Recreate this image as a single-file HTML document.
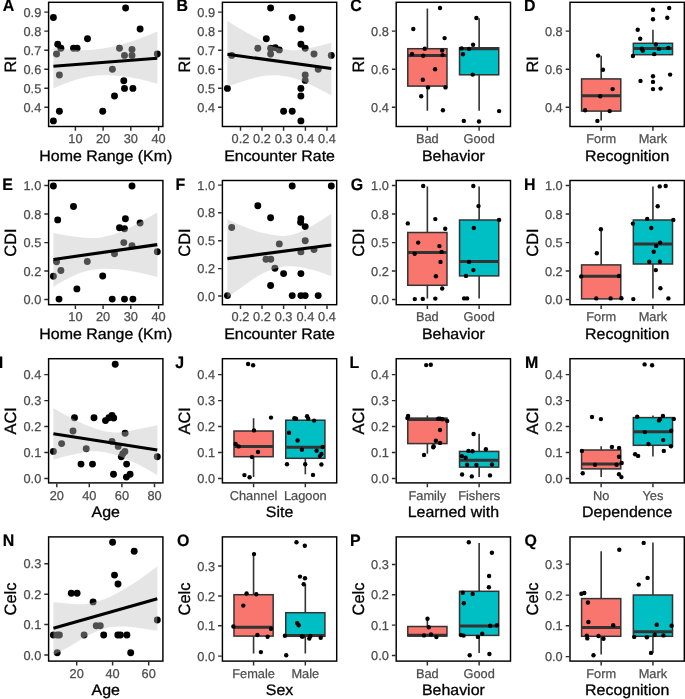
<!DOCTYPE html>
<html lang="en">
<head>
<meta charset="utf-8">
<title>Figure</title>
<style>
html,body{margin:0;padding:0;background:#fff;}
svg{display:block;}
text{font-family:"Liberation Sans",sans-serif;text-rendering:geometricPrecision;}
.t text{font-size:12.8px;fill:#4d4d4d;stroke:#4d4d4d;stroke-width:0.25px;}
.a{font-size:15.2px;fill:#000;stroke:#000;stroke-width:0.3px;}
.b{font-size:16.4px;fill:#000;stroke:#000;stroke-width:0.3px;}
.g{font-size:16.6px;font-weight:bold;fill:#000;stroke:#000;stroke-width:0.2px;}
</style>
</head>
<body>
<svg width="685" height="699" viewBox="0 0 685 699">
<rect width="685" height="699" fill="#fff"/>
<g>
<g fill="#000"><circle cx="125.6" cy="8" r="3.45"/><circle cx="53.4" cy="17.5" r="3.45"/><circle cx="140.1" cy="29" r="3.45"/><circle cx="87.5" cy="38.7" r="3.45"/><circle cx="57.7" cy="44.3" r="3.45"/><circle cx="60.9" cy="48.2" r="3.45"/><circle cx="73.5" cy="48.2" r="3.45"/><circle cx="77.1" cy="48.2" r="3.45"/><circle cx="119.5" cy="48.2" r="3.45"/><circle cx="132" cy="49.5" r="3.45"/><circle cx="56.6" cy="54" r="3.45"/><circle cx="157.3" cy="54" r="3.45"/><circle cx="124.5" cy="55.4" r="3.45"/><circle cx="132" cy="55.4" r="3.45"/><circle cx="112.4" cy="69.2" r="3.45"/><circle cx="59.4" cy="75" r="3.45"/><circle cx="123.8" cy="80.7" r="3.45"/><circle cx="124.5" cy="88.4" r="3.45"/><circle cx="132.9" cy="88.4" r="3.45"/><circle cx="114.5" cy="96" r="3.45"/><circle cx="59.4" cy="111.3" r="3.45"/><circle cx="102.7" cy="111.3" r="3.45"/><circle cx="53.4" cy="120.9" r="3.45"/></g>
<path d="M53.4 47.4C55.27 47.72 59.63 48.83 64.6 49.3C69.57 49.77 77 50.3 83.2 50.2C89.4 50.1 95.6 49.62 101.8 48.7C108 47.78 114.2 46.3 120.4 44.7C126.6 43.1 132.85 41.28 139 39.1C145.15 36.92 154.25 32.85 157.3 31.6L157.3 83.7C154.25 82.93 145.15 80.4 139 79.1C132.85 77.8 126.6 76.53 120.4 75.9C114.2 75.27 108 74.98 101.8 75.3C95.6 75.62 89.4 76.4 83.2 77.8C77 79.2 69.57 81.93 64.6 83.7C59.63 85.47 55.27 87.62 53.4 88.4Z" fill="#c0c0c0" fill-opacity="0.41"/>
<line x1="53.4" y1="66.2" x2="157.3" y2="58.2" stroke="#000" stroke-width="3.1"/>
<rect x="48.6" y="2.3" width="114.3" height="124.2" fill="none" stroke="#000" stroke-width="1.45"/>
<path d="M48 12.1h-3.7M48 31.1h-3.7M48 50.2h-3.7M48 69.2h-3.7M48 88.2h-3.7M48 107.3h-3.7M75.4 127.1v3.7M103.1 127.1v3.7M130.8 127.1v3.7M158.6 127.1v3.7" stroke="#2b2b2b" stroke-width="1.45" fill="none"/>
<g class="t">
<text x="41.3" y="16.75" text-anchor="end">0.9</text>
<text x="41.3" y="35.75" text-anchor="end">0.8</text>
<text x="41.3" y="54.85" text-anchor="end">0.7</text>
<text x="41.3" y="73.85" text-anchor="end">0.6</text>
<text x="41.3" y="92.85" text-anchor="end">0.5</text>
<text x="41.3" y="111.95" text-anchor="end">0.4</text>
<text x="75.4" y="143.1" text-anchor="middle">10</text>
<text x="103.1" y="143.1" text-anchor="middle">20</text>
<text x="130.8" y="143.1" text-anchor="middle">30</text>
<text x="158.6" y="143.1" text-anchor="middle">40</text>
</g>
<text class="a" transform="translate(105.75 160.5) scale(1.05 1)" text-anchor="middle">Home Range (Km)</text>
<text class="b" transform="translate(16.3 64.4) rotate(-90) scale(1.0 1)" text-anchor="middle">RI</text>
<text class="g" transform="translate(2.7 11.3) scale(0.96 1)">A</text>
</g>
<g>
<g fill="#000"><circle cx="270.6" cy="8" r="3.45"/><circle cx="292.2" cy="17.5" r="3.45"/><circle cx="300.9" cy="29" r="3.45"/><circle cx="266.3" cy="38.7" r="3.45"/><circle cx="300.9" cy="44.3" r="3.45"/><circle cx="257.8" cy="48.2" r="3.45"/><circle cx="270.6" cy="48.2" r="3.45"/><circle cx="275.3" cy="47.8" r="3.45"/><circle cx="305.2" cy="48.2" r="3.45"/><circle cx="279.3" cy="49.9" r="3.45"/><circle cx="270.6" cy="54" r="3.45"/><circle cx="314" cy="54" r="3.45"/><circle cx="231.7" cy="55.4" r="3.45"/><circle cx="331.3" cy="55.4" r="3.45"/><circle cx="318.2" cy="69.2" r="3.45"/><circle cx="305.2" cy="75" r="3.45"/><circle cx="305.2" cy="80.4" r="3.45"/><circle cx="227.4" cy="88.4" r="3.45"/><circle cx="300.9" cy="88.4" r="3.45"/><circle cx="300.9" cy="96" r="3.45"/><circle cx="283.6" cy="111.3" r="3.45"/><circle cx="292.2" cy="111.3" r="3.45"/><circle cx="300.9" cy="120.9" r="3.45"/></g>
<path d="M227.4 20.8C229.27 21.98 233.63 25.02 238.6 27.9C243.57 30.78 252.23 35.3 257.2 38.1C262.17 40.9 264.37 42.93 268.4 44.7C272.43 46.47 277.07 47.78 281.4 48.7C285.73 49.62 290.07 50.2 294.4 50.2C298.73 50.2 303.37 49.38 307.4 48.7C311.43 48.02 314.62 47.15 318.6 46.1C322.58 45.05 329.18 43.02 331.3 42.4L331.3 95.3C328.25 93.75 318.53 88.62 313 86C307.47 83.38 302.75 81.22 298.1 79.6C293.45 77.98 289.43 77.02 285.1 76.3C280.77 75.58 276.75 75.15 272.1 75.3C267.45 75.45 262.78 75.95 257.2 77.2C251.62 78.45 243.57 81.25 238.6 82.8C233.63 84.35 229.27 85.88 227.4 86.5Z" fill="#c0c0c0" fill-opacity="0.41"/>
<line x1="227.4" y1="54.3" x2="331.3" y2="68.5" stroke="#000" stroke-width="3.1"/>
<rect x="222.4" y="2.3" width="114.3" height="124.2" fill="none" stroke="#000" stroke-width="1.45"/>
<path d="M221.8 12.1h-3.7M221.8 31.1h-3.7M221.8 50.2h-3.7M221.8 69.2h-3.7M221.8 88.2h-3.7M221.8 107.3h-3.7M240.5 127.1v3.7M262 127.1v3.7M283.6 127.1v3.7M305.4 127.1v3.7M327 127.1v3.7" stroke="#2b2b2b" stroke-width="1.45" fill="none"/>
<g class="t">
<text x="215.1" y="16.75" text-anchor="end">0.9</text>
<text x="215.1" y="35.75" text-anchor="end">0.8</text>
<text x="215.1" y="54.85" text-anchor="end">0.7</text>
<text x="215.1" y="73.85" text-anchor="end">0.6</text>
<text x="215.1" y="92.85" text-anchor="end">0.5</text>
<text x="215.1" y="111.95" text-anchor="end">0.4</text>
<text x="240.5" y="143.1" text-anchor="middle">0.2</text>
<text x="262" y="143.1" text-anchor="middle">0.2</text>
<text x="283.6" y="143.1" text-anchor="middle">0.3</text>
<text x="305.4" y="143.1" text-anchor="middle">0.4</text>
<text x="327" y="143.1" text-anchor="middle">0.4</text>
</g>
<text class="a" transform="translate(279.55 160.5) scale(1.05 1)" text-anchor="middle">Encounter Rate</text>
<text class="b" transform="translate(190.1 64.4) rotate(-90) scale(1.0 1)" text-anchor="middle">RI</text>
<text class="g" transform="translate(176.5 11.3) scale(0.96 1)">B</text>
</g>
<g>
<path d="M427.37 8.4V48.7M427.37 86.1V110.7" stroke="#333" stroke-width="1.6" fill="none"/>
<rect x="407.77" y="48.7" width="39.2" height="37.4" fill="#F8766D" stroke="#333" stroke-width="1.5"/>
<line x1="407.77" y1="55.4" x2="446.97" y2="55.4" stroke="#333" stroke-width="3"/>
<path d="M479.13 18.2V47.8M479.13 74.8V110.7" stroke="#333" stroke-width="1.6" fill="none"/>
<rect x="459.53" y="47.8" width="39.2" height="27" fill="#00BFC4" stroke="#333" stroke-width="1.5"/>
<line x1="459.53" y1="48.7" x2="498.73" y2="48.7" stroke="#333" stroke-width="3"/>
<g fill="#000"><circle cx="440" cy="8" r="2.2"/><circle cx="413.3" cy="29" r="2.2"/><circle cx="444.6" cy="38.1" r="2.2"/><circle cx="424.7" cy="48.7" r="2.2"/><circle cx="442.2" cy="50.6" r="2.2"/><circle cx="412" cy="54" r="2.2"/><circle cx="423.2" cy="55.8" r="2.2"/><circle cx="442.6" cy="55.1" r="2.2"/><circle cx="435.1" cy="69.2" r="2.2"/><circle cx="422.8" cy="79.8" r="2.2"/><circle cx="428" cy="87.4" r="2.2"/><circle cx="445.5" cy="87.4" r="2.2"/><circle cx="421.2" cy="96.2" r="2.2"/><circle cx="442.9" cy="110.3" r="2.2"/><circle cx="476.4" cy="18" r="2.2"/><circle cx="473.1" cy="44.8" r="2.2"/><circle cx="461.5" cy="48.4" r="2.2"/><circle cx="469" cy="48.9" r="2.2"/><circle cx="463" cy="54.3" r="2.2"/><circle cx="472.7" cy="74.6" r="2.2"/><circle cx="499.1" cy="111.1" r="2.2"/><circle cx="463.8" cy="120.9" r="2.2"/><circle cx="479" cy="121.5" r="2.2"/></g>
<rect x="396.2" y="2.3" width="114.3" height="124.2" fill="none" stroke="#000" stroke-width="1.45"/>
<path d="M395.6 31.1h-3.7M395.6 69.2h-3.7M395.6 107.3h-3.7M427.37 127.1v3.7M479.13 127.1v3.7" stroke="#2b2b2b" stroke-width="1.45" fill="none"/>
<g class="t">
<text x="388.9" y="35.75" text-anchor="end">0.8</text>
<text x="388.9" y="73.85" text-anchor="end">0.6</text>
<text x="388.9" y="111.95" text-anchor="end">0.4</text>
<text x="427.37" y="143.1" text-anchor="middle">Bad</text>
<text x="479.13" y="143.1" text-anchor="middle">Good</text>
</g>
<text class="a" transform="translate(453.35 160.5) scale(1.05 1)" text-anchor="middle">Behavior</text>
<text class="b" transform="translate(363.9 64.4) rotate(-90) scale(1.0 1)" text-anchor="middle">RI</text>
<text class="g" transform="translate(350.3 11.3) scale(0.96 1)">C</text>
</g>
<g>
<path d="M601.17 55.8V78.9M601.17 111.1V120.6" stroke="#333" stroke-width="1.6" fill="none"/>
<rect x="581.57" y="78.9" width="39.2" height="32.2" fill="#F8766D" stroke="#333" stroke-width="1.5"/>
<line x1="581.57" y1="95.8" x2="620.77" y2="95.8" stroke="#333" stroke-width="3"/>
<path d="M652.93 29.8V43.3M652.93 54.7V55.7" stroke="#333" stroke-width="1.6" fill="none"/>
<rect x="633.33" y="43.3" width="39.2" height="11.4" fill="#00BFC4" stroke="#333" stroke-width="1.5"/>
<line x1="633.33" y1="48.4" x2="672.53" y2="48.4" stroke="#333" stroke-width="3"/>
<g fill="#000"><circle cx="598.1" cy="55.6" r="2.2"/><circle cx="603" cy="69.8" r="2.2"/><circle cx="612.6" cy="89.1" r="2.2"/><circle cx="600.2" cy="96.2" r="2.2"/><circle cx="585.1" cy="110.3" r="2.2"/><circle cx="609.7" cy="111.1" r="2.2"/><circle cx="597.4" cy="120.9" r="2.2"/><circle cx="653" cy="9.7" r="2.2"/><circle cx="669.2" cy="8" r="2.2"/><circle cx="653" cy="19.2" r="2.2"/><circle cx="667.3" cy="17.7" r="2.2"/><circle cx="637.7" cy="29.8" r="2.2"/><circle cx="640.2" cy="38.7" r="2.2"/><circle cx="655.8" cy="44.5" r="2.2"/><circle cx="641.8" cy="48.7" r="2.2"/><circle cx="642.8" cy="50.8" r="2.2"/><circle cx="659" cy="48.9" r="2.2"/><circle cx="668.3" cy="48" r="2.2"/><circle cx="654.3" cy="54.1" r="2.2"/><circle cx="632.9" cy="56" r="2.2"/><circle cx="653" cy="76.3" r="2.2"/><circle cx="670.1" cy="74.6" r="2.2"/><circle cx="640.5" cy="80.9" r="2.2"/><circle cx="653" cy="81.9" r="2.2"/><circle cx="653" cy="89.1" r="2.2"/><circle cx="660.6" cy="88.6" r="2.2"/></g>
<rect x="570" y="2.3" width="114.3" height="124.2" fill="none" stroke="#000" stroke-width="1.45"/>
<path d="M569.4 31.1h-3.7M569.4 69.2h-3.7M569.4 107.3h-3.7M601.17 127.1v3.7M652.93 127.1v3.7" stroke="#2b2b2b" stroke-width="1.45" fill="none"/>
<g class="t">
<text x="562.7" y="35.75" text-anchor="end">0.8</text>
<text x="562.7" y="73.85" text-anchor="end">0.6</text>
<text x="562.7" y="111.95" text-anchor="end">0.4</text>
<text x="601.17" y="143.1" text-anchor="middle">Form</text>
<text x="652.93" y="143.1" text-anchor="middle">Mark</text>
</g>
<text class="a" transform="translate(627.15 160.5) scale(1.05 1)" text-anchor="middle">Recognition</text>
<text class="b" transform="translate(537.7 64.4) rotate(-90) scale(1.0 1)" text-anchor="middle">RI</text>
<text class="g" transform="translate(524.1 11.3) scale(0.96 1)">D</text>
</g>
<g>
<g fill="#000"><circle cx="53.4" cy="186" r="3.45"/><circle cx="132" cy="186" r="3.45"/><circle cx="73.5" cy="206.5" r="3.45"/><circle cx="57.7" cy="219.9" r="3.45"/><circle cx="125.4" cy="218.7" r="3.45"/><circle cx="119.5" cy="227.7" r="3.45"/><circle cx="124.5" cy="228.8" r="3.45"/><circle cx="140.1" cy="223" r="3.45"/><circle cx="123.8" cy="242.6" r="3.45"/><circle cx="132" cy="245.7" r="3.45"/><circle cx="114.5" cy="253.7" r="3.45"/><circle cx="157.3" cy="251.7" r="3.45"/><circle cx="56.6" cy="261.7" r="3.45"/><circle cx="87.3" cy="261.5" r="3.45"/><circle cx="60.9" cy="270.5" r="3.45"/><circle cx="53.4" cy="276.2" r="3.45"/><circle cx="102.7" cy="276" r="3.45"/><circle cx="76.9" cy="288.9" r="3.45"/><circle cx="59" cy="299.1" r="3.45"/><circle cx="112.2" cy="299.1" r="3.45"/><circle cx="124.5" cy="299.1" r="3.45"/><circle cx="132.9" cy="299.1" r="3.45"/></g>
<path d="M53.4 232.9C56.82 233.52 68 235.77 73.9 236.6C79.8 237.43 84.15 237.8 88.8 237.9C93.45 238 96.53 238.18 101.8 237.2C107.07 236.22 114.2 234.42 120.4 232C126.6 229.58 132.85 225.97 139 222.7C145.15 219.43 154.25 214.12 157.3 212.4L157.3 277C154.25 276.25 145.15 273.75 139 272.5C132.85 271.25 126.6 270.12 120.4 269.5C114.2 268.88 108 268.38 101.8 268.8C95.6 269.22 89.4 270.08 83.2 272C77 273.92 69.57 277.83 64.6 280.3C59.63 282.77 55.27 285.72 53.4 286.8Z" fill="#c0c0c0" fill-opacity="0.41"/>
<line x1="53.4" y1="259.5" x2="157.3" y2="244.6" stroke="#000" stroke-width="3.1"/>
<rect x="48.6" y="180.5" width="114.3" height="124.2" fill="none" stroke="#000" stroke-width="1.45"/>
<path d="M48 185.4h-3.7M48 213.9h-3.7M48 242.6h-3.7M48 270.9h-3.7M48 299.5h-3.7M75.4 305.3v3.7M103.1 305.3v3.7M130.8 305.3v3.7M158.6 305.3v3.7" stroke="#2b2b2b" stroke-width="1.45" fill="none"/>
<g class="t">
<text x="41.3" y="190.05" text-anchor="end">1.0</text>
<text x="41.3" y="218.55" text-anchor="end">0.8</text>
<text x="41.3" y="247.25" text-anchor="end">0.5</text>
<text x="41.3" y="275.55" text-anchor="end">0.2</text>
<text x="41.3" y="304.15" text-anchor="end">0.0</text>
<text x="75.4" y="321.3" text-anchor="middle">10</text>
<text x="103.1" y="321.3" text-anchor="middle">20</text>
<text x="130.8" y="321.3" text-anchor="middle">30</text>
<text x="158.6" y="321.3" text-anchor="middle">40</text>
</g>
<text class="a" transform="translate(105.75 338.7) scale(1.05 1)" text-anchor="middle">Home Range (Km)</text>
<text class="b" transform="translate(16.3 242.6) rotate(-90) scale(1.0 1)" text-anchor="middle">CDI</text>
<text class="g" transform="translate(2.3 189.5) scale(0.96 1)">E</text>
</g>
<g>
<g fill="#000"><circle cx="292.2" cy="186" r="3.45"/><circle cx="331.3" cy="186" r="3.45"/><circle cx="257.8" cy="205.7" r="3.45"/><circle cx="270.6" cy="217.8" r="3.45"/><circle cx="300.9" cy="218.6" r="3.45"/><circle cx="300.6" cy="222.3" r="3.45"/><circle cx="305.2" cy="226.6" r="3.45"/><circle cx="231.7" cy="227.5" r="3.45"/><circle cx="305.2" cy="240.7" r="3.45"/><circle cx="279.3" cy="243.9" r="3.45"/><circle cx="300.9" cy="251.9" r="3.45"/><circle cx="314" cy="249.6" r="3.45"/><circle cx="266" cy="259.3" r="3.45"/><circle cx="270.8" cy="259.3" r="3.45"/><circle cx="274.9" cy="268.2" r="3.45"/><circle cx="283.6" cy="273.6" r="3.45"/><circle cx="300.9" cy="273.6" r="3.45"/><circle cx="270.6" cy="285.5" r="3.45"/><circle cx="227.4" cy="295.6" r="3.45"/><circle cx="292.2" cy="295.6" r="3.45"/><circle cx="300.9" cy="295.6" r="3.45"/><circle cx="305.2" cy="295.6" r="3.45"/><circle cx="318.2" cy="295.6" r="3.45"/></g>
<path d="M227.4 218.9C229.27 219.83 233.63 222.42 238.6 224.5C243.57 226.58 251 229.6 257.2 231.4C263.4 233.2 271.15 234.58 275.8 235.3C280.45 236.02 281.38 236.1 285.1 235.7C288.82 235.3 293.45 234.62 298.1 232.9C302.75 231.18 307.47 228.6 313 225.4C318.53 222.2 328.25 215.65 331.3 213.7L331.3 276.2C328.87 275.33 321.3 272.42 316.7 271C312.1 269.58 307.42 268.47 303.7 267.7C299.98 266.93 298.12 266.53 294.4 266.4C290.68 266.27 285.73 266.13 281.4 266.9C277.07 267.67 272.43 269.38 268.4 271C264.37 272.62 262.17 273.5 257.2 276.6C252.23 279.7 243.57 286.03 238.6 289.6C233.63 293.17 229.27 296.6 227.4 298Z" fill="#c0c0c0" fill-opacity="0.41"/>
<line x1="227.4" y1="258.6" x2="331.3" y2="245" stroke="#000" stroke-width="3.1"/>
<rect x="222.4" y="180.5" width="114.3" height="124.2" fill="none" stroke="#000" stroke-width="1.45"/>
<path d="M221.8 185.1h-3.7M221.8 212.8h-3.7M221.8 240.7h-3.7M221.8 268.6h-3.7M221.8 296h-3.7M240.5 305.3v3.7M262 305.3v3.7M283.6 305.3v3.7M305.4 305.3v3.7M327 305.3v3.7" stroke="#2b2b2b" stroke-width="1.45" fill="none"/>
<g class="t">
<text x="215.1" y="189.75" text-anchor="end">1.0</text>
<text x="215.1" y="217.45" text-anchor="end">0.8</text>
<text x="215.1" y="245.35" text-anchor="end">0.5</text>
<text x="215.1" y="273.25" text-anchor="end">0.2</text>
<text x="215.1" y="300.65" text-anchor="end">0.0</text>
<text x="240.5" y="321.3" text-anchor="middle">0.2</text>
<text x="262" y="321.3" text-anchor="middle">0.2</text>
<text x="283.6" y="321.3" text-anchor="middle">0.3</text>
<text x="305.4" y="321.3" text-anchor="middle">0.4</text>
<text x="327" y="321.3" text-anchor="middle">0.4</text>
</g>
<text class="a" transform="translate(279.55 338.7) scale(1.05 1)" text-anchor="middle">Encounter Rate</text>
<text class="b" transform="translate(190.1 242.6) rotate(-90) scale(1.0 1)" text-anchor="middle">CDI</text>
<text class="g" transform="translate(175.6 189.5) scale(0.96 1)">F</text>
</g>
<g>
<path d="M427.37 186.4V232.5M427.37 285.3V298.6" stroke="#333" stroke-width="1.6" fill="none"/>
<rect x="407.77" y="232.5" width="39.2" height="52.8" fill="#F8766D" stroke="#333" stroke-width="1.5"/>
<line x1="407.77" y1="252.6" x2="446.97" y2="252.6" stroke="#333" stroke-width="3"/>
<path d="M479.13 186.4V220M479.13 275.9V298.6" stroke="#333" stroke-width="1.6" fill="none"/>
<rect x="459.53" y="220" width="39.2" height="55.9" fill="#00BFC4" stroke="#333" stroke-width="1.5"/>
<line x1="459.53" y1="261.5" x2="498.73" y2="261.5" stroke="#333" stroke-width="3"/>
<g fill="#000"><circle cx="423.2" cy="186" r="2.2"/><circle cx="407.8" cy="223.4" r="2.2"/><circle cx="435.3" cy="219.1" r="2.2"/><circle cx="445.2" cy="228.8" r="2.2"/><circle cx="418.2" cy="242.6" r="2.2"/><circle cx="439.4" cy="246.1" r="2.2"/><circle cx="441.6" cy="251.9" r="2.2"/><circle cx="414.7" cy="253.7" r="2.2"/><circle cx="440.5" cy="261.9" r="2.2"/><circle cx="435.9" cy="276.2" r="2.2"/><circle cx="442.2" cy="288.5" r="2.2"/><circle cx="414.8" cy="299.1" r="2.2"/><circle cx="422.8" cy="298.9" r="2.2"/><circle cx="435.3" cy="298.6" r="2.2"/><circle cx="473.3" cy="186" r="2.2"/><circle cx="478.5" cy="206.1" r="2.2"/><circle cx="499.1" cy="219.9" r="2.2"/><circle cx="473.8" cy="228" r="2.2"/><circle cx="469" cy="261.9" r="2.2"/><circle cx="473.4" cy="270.1" r="2.2"/><circle cx="466" cy="275.9" r="2.2"/><circle cx="464.1" cy="298.4" r="2.2"/><circle cx="467.1" cy="298.4" r="2.2"/></g>
<rect x="396.2" y="180.5" width="114.3" height="124.2" fill="none" stroke="#000" stroke-width="1.45"/>
<path d="M395.6 185.4h-3.7M395.6 213.9h-3.7M395.6 242.6h-3.7M395.6 270.9h-3.7M395.6 299.5h-3.7M427.37 305.3v3.7M479.13 305.3v3.7" stroke="#2b2b2b" stroke-width="1.45" fill="none"/>
<g class="t">
<text x="388.9" y="190.05" text-anchor="end">1.0</text>
<text x="388.9" y="218.55" text-anchor="end">0.8</text>
<text x="388.9" y="247.25" text-anchor="end">0.5</text>
<text x="388.9" y="275.55" text-anchor="end">0.2</text>
<text x="388.9" y="304.15" text-anchor="end">0.0</text>
<text x="427.37" y="321.3" text-anchor="middle">Bad</text>
<text x="479.13" y="321.3" text-anchor="middle">Good</text>
</g>
<text class="a" transform="translate(453.35 338.7) scale(1.05 1)" text-anchor="middle">Behavior</text>
<text class="b" transform="translate(363.9 242.6) rotate(-90) scale(1.0 1)" text-anchor="middle">CDI</text>
<text class="g" transform="translate(350.7 189.5) scale(0.96 1)">G</text>
</g>
<g>
<path d="M601.17 229.5V264.9M601.17 298.9V298.9" stroke="#333" stroke-width="1.6" fill="none"/>
<rect x="581.57" y="264.9" width="39.2" height="34" fill="#F8766D" stroke="#333" stroke-width="1.5"/>
<line x1="581.57" y1="276.2" x2="620.77" y2="276.2" stroke="#333" stroke-width="3"/>
<path d="M652.93 186.4V220M652.93 264V298.6" stroke="#333" stroke-width="1.6" fill="none"/>
<rect x="633.33" y="220" width="39.2" height="44" fill="#00BFC4" stroke="#333" stroke-width="1.5"/>
<line x1="633.33" y1="244" x2="672.53" y2="244" stroke="#333" stroke-width="3"/>
<g fill="#000"><circle cx="600.9" cy="229.3" r="2.2"/><circle cx="596.8" cy="253.2" r="2.2"/><circle cx="581.2" cy="276.4" r="2.2"/><circle cx="619" cy="276" r="2.2"/><circle cx="596.3" cy="298.4" r="2.2"/><circle cx="610.6" cy="298.4" r="2.2"/><circle cx="621.4" cy="298.2" r="2.2"/><circle cx="659.7" cy="186.4" r="2.2"/><circle cx="665.7" cy="186" r="2.2"/><circle cx="657.7" cy="206.3" r="2.2"/><circle cx="647.2" cy="218.9" r="2.2"/><circle cx="673.3" cy="219.9" r="2.2"/><circle cx="632.9" cy="223.6" r="2.2"/><circle cx="651.3" cy="228" r="2.2"/><circle cx="660.1" cy="242.6" r="2.2"/><circle cx="656.2" cy="245.9" r="2.2"/><circle cx="653.7" cy="251.7" r="2.2"/><circle cx="649.3" cy="261.7" r="2.2"/><circle cx="659.9" cy="261.7" r="2.2"/><circle cx="655.8" cy="270.1" r="2.2"/><circle cx="660.4" cy="288.3" r="2.2"/><circle cx="633.3" cy="299.1" r="2.2"/><circle cx="668.4" cy="298.4" r="2.2"/></g>
<rect x="570" y="180.5" width="114.3" height="124.2" fill="none" stroke="#000" stroke-width="1.45"/>
<path d="M569.4 185.4h-3.7M569.4 213.9h-3.7M569.4 242.6h-3.7M569.4 270.9h-3.7M569.4 299.5h-3.7M601.17 305.3v3.7M652.93 305.3v3.7" stroke="#2b2b2b" stroke-width="1.45" fill="none"/>
<g class="t">
<text x="562.7" y="190.05" text-anchor="end">1.0</text>
<text x="562.7" y="218.55" text-anchor="end">0.8</text>
<text x="562.7" y="247.25" text-anchor="end">0.5</text>
<text x="562.7" y="275.55" text-anchor="end">0.2</text>
<text x="562.7" y="304.15" text-anchor="end">0.0</text>
<text x="601.17" y="321.3" text-anchor="middle">Form</text>
<text x="652.93" y="321.3" text-anchor="middle">Mark</text>
</g>
<text class="a" transform="translate(627.15 338.7) scale(1.05 1)" text-anchor="middle">Recognition</text>
<text class="b" transform="translate(537.7 242.6) rotate(-90) scale(1.0 1)" text-anchor="middle">CDI</text>
<text class="g" transform="translate(524.1 189.5) scale(0.96 1)">H</text>
</g>
<g>
<g fill="#000"><circle cx="115.2" cy="364.2" r="3.45"/><circle cx="74.5" cy="417.8" r="3.45"/><circle cx="94" cy="417.8" r="3.45"/><circle cx="112" cy="415.5" r="3.45"/><circle cx="108.9" cy="417.8" r="3.45"/><circle cx="113.7" cy="418" r="3.45"/><circle cx="105.5" cy="420.6" r="3.45"/><circle cx="73" cy="431" r="3.45"/><circle cx="125.1" cy="433.2" r="3.45"/><circle cx="112" cy="441.4" r="3.45"/><circle cx="61.6" cy="443.6" r="3.45"/><circle cx="118.2" cy="446.4" r="3.45"/><circle cx="86.2" cy="448.7" r="3.45"/><circle cx="53.4" cy="451.4" r="3.45"/><circle cx="124.9" cy="451.4" r="3.45"/><circle cx="122.8" cy="453.7" r="3.45"/><circle cx="121.3" cy="456.7" r="3.45"/><circle cx="157.3" cy="456.7" r="3.45"/><circle cx="81" cy="464.1" r="3.45"/><circle cx="92.5" cy="464.1" r="3.45"/><circle cx="126.6" cy="464.1" r="3.45"/><circle cx="113.5" cy="474.3" r="3.45"/><circle cx="130.1" cy="474.3" r="3.45"/><circle cx="126.4" cy="477.1" r="3.45"/></g>
<path d="M53.4 408.1C55.27 409.18 59.63 411.97 64.6 414.6C69.57 417.23 77 421.27 83.2 423.9C89.4 426.53 97.15 429.07 101.8 430.4C106.45 431.73 108 431.58 111.1 431.9C114.2 432.22 115.75 432.8 120.4 432.3C125.05 431.8 132.85 430.08 139 428.9C145.15 427.72 154.25 425.82 157.3 425.2L157.3 475.1C154.25 473.38 145.15 467.9 139 464.8C132.85 461.7 125.67 458.52 120.4 456.5C115.13 454.48 111.73 453.57 107.4 452.7C103.07 451.83 98.43 451.35 94.4 451.3C90.37 451.25 88.17 451.53 83.2 452.4C78.23 453.27 69.57 455.27 64.6 456.5C59.63 457.73 55.27 459.25 53.4 459.8Z" fill="#c0c0c0" fill-opacity="0.41"/>
<line x1="53.4" y1="433.8" x2="157.3" y2="450" stroke="#000" stroke-width="3.1"/>
<rect x="48.6" y="358.7" width="114.3" height="124.2" fill="none" stroke="#000" stroke-width="1.45"/>
<path d="M48 374.6h-3.7M48 400.6h-3.7M48 426.5h-3.7M48 452.4h-3.7M48 478.5h-3.7M56.8 483.5v3.7M89.3 483.5v3.7M121.9 483.5v3.7M154.5 483.5v3.7" stroke="#2b2b2b" stroke-width="1.45" fill="none"/>
<g class="t">
<text x="41.3" y="379.25" text-anchor="end">0.4</text>
<text x="41.3" y="405.25" text-anchor="end">0.3</text>
<text x="41.3" y="431.15" text-anchor="end">0.2</text>
<text x="41.3" y="457.05" text-anchor="end">0.1</text>
<text x="41.3" y="483.15" text-anchor="end">0.0</text>
<text x="56.8" y="499.5" text-anchor="middle">20</text>
<text x="89.3" y="499.5" text-anchor="middle">40</text>
<text x="121.9" y="499.5" text-anchor="middle">60</text>
<text x="154.5" y="499.5" text-anchor="middle">80</text>
</g>
<text class="a" transform="translate(105.75 516.9) scale(1.05 1)" text-anchor="middle">Age</text>
<text class="b" transform="translate(16.3 420.8) rotate(-90) scale(1.0 1)" text-anchor="middle">ACI</text>
<text class="g" transform="translate(-1.2 367.7) scale(0.96 1)">I</text>
</g>
<g>
<path d="M253.57 418.3V431M253.57 456.7V476.9" stroke="#333" stroke-width="1.6" fill="none"/>
<rect x="233.97" y="431" width="39.2" height="25.7" fill="#F8766D" stroke="#333" stroke-width="1.5"/>
<line x1="233.97" y1="446.4" x2="273.17" y2="446.4" stroke="#333" stroke-width="3"/>
<path d="M305.33 420.2V420.2M305.33 458.3V474.3" stroke="#333" stroke-width="1.6" fill="none"/>
<rect x="285.73" y="420.2" width="39.2" height="38.1" fill="#00BFC4" stroke="#333" stroke-width="1.5"/>
<line x1="285.73" y1="447.3" x2="324.93" y2="447.3" stroke="#333" stroke-width="3"/>
<g fill="#000"><circle cx="248.1" cy="364" r="2.2"/><circle cx="253.1" cy="365.3" r="2.2"/><circle cx="271" cy="417.6" r="2.2"/><circle cx="254" cy="430.4" r="2.2"/><circle cx="235.6" cy="444" r="2.2"/><circle cx="238.6" cy="446.4" r="2.2"/><circle cx="258" cy="452" r="2.2"/><circle cx="252" cy="457" r="2.2"/><circle cx="244.4" cy="475.1" r="2.2"/><circle cx="249.6" cy="477.3" r="2.2"/><circle cx="294.4" cy="418.3" r="2.2"/><circle cx="296.1" cy="418.7" r="2.2"/><circle cx="307.1" cy="416.3" r="2.2"/><circle cx="308.2" cy="418.7" r="2.2"/><circle cx="314.1" cy="420.6" r="2.2"/><circle cx="289" cy="432.8" r="2.2"/><circle cx="297.6" cy="440.5" r="2.2"/><circle cx="301.9" cy="449.8" r="2.2"/><circle cx="316.6" cy="450.7" r="2.2"/><circle cx="322.7" cy="447" r="2.2"/><circle cx="321.4" cy="454" r="2.2"/><circle cx="319.9" cy="456.1" r="2.2"/><circle cx="287" cy="464.3" r="2.2"/><circle cx="305.2" cy="464.3" r="2.2"/><circle cx="321.4" cy="464.5" r="2.2"/><circle cx="313" cy="474.9" r="2.2"/></g>
<rect x="222.4" y="358.7" width="114.3" height="124.2" fill="none" stroke="#000" stroke-width="1.45"/>
<path d="M221.8 374.6h-3.7M221.8 400.6h-3.7M221.8 426.5h-3.7M221.8 452.4h-3.7M221.8 478.5h-3.7M253.57 483.5v3.7M305.33 483.5v3.7" stroke="#2b2b2b" stroke-width="1.45" fill="none"/>
<g class="t">
<text x="215.1" y="379.25" text-anchor="end">0.4</text>
<text x="215.1" y="405.25" text-anchor="end">0.3</text>
<text x="215.1" y="431.15" text-anchor="end">0.2</text>
<text x="215.1" y="457.05" text-anchor="end">0.1</text>
<text x="215.1" y="483.15" text-anchor="end">0.0</text>
<text x="253.57" y="499.5" text-anchor="middle">Channel</text>
<text x="305.33" y="499.5" text-anchor="middle">Lagoon</text>
</g>
<text class="a" transform="translate(279.55 516.9) scale(1.05 1)" text-anchor="middle">Site</text>
<text class="b" transform="translate(190.1 420.8) rotate(-90) scale(1.0 1)" text-anchor="middle">ACI</text>
<text class="g" transform="translate(175.2 367.7) scale(0.96 1)">J</text>
</g>
<g>
<path d="M427.37 415.5V418.1M427.37 443.6V453.7" stroke="#333" stroke-width="1.6" fill="none"/>
<rect x="407.77" y="418.1" width="39.2" height="25.5" fill="#F8766D" stroke="#333" stroke-width="1.5"/>
<line x1="407.77" y1="419.6" x2="446.97" y2="419.6" stroke="#333" stroke-width="3"/>
<path d="M479.13 433.8V451.4M479.13 467.1V476.9" stroke="#333" stroke-width="1.6" fill="none"/>
<rect x="459.53" y="451.4" width="39.2" height="15.7" fill="#00BFC4" stroke="#333" stroke-width="1.5"/>
<line x1="459.53" y1="460.2" x2="498.73" y2="460.2" stroke="#333" stroke-width="3"/>
<g fill="#000"><circle cx="426.2" cy="365.1" r="2.2"/><circle cx="430.8" cy="364.7" r="2.2"/><circle cx="408.1" cy="415.9" r="2.2"/><circle cx="407.4" cy="418.1" r="2.2"/><circle cx="438.3" cy="418.7" r="2.2"/><circle cx="440" cy="418.7" r="2.2"/><circle cx="442.4" cy="419.3" r="2.2"/><circle cx="447.2" cy="420.9" r="2.2"/><circle cx="440" cy="430" r="2.2"/><circle cx="435.9" cy="440.8" r="2.2"/><circle cx="440.1" cy="442.9" r="2.2"/><circle cx="433.6" cy="446.2" r="2.2"/><circle cx="433.3" cy="447.3" r="2.2"/><circle cx="424" cy="455" r="2.2"/><circle cx="473.6" cy="434" r="2.2"/><circle cx="468.4" cy="450.9" r="2.2"/><circle cx="472.5" cy="451.3" r="2.2"/><circle cx="485.9" cy="449.2" r="2.2"/><circle cx="461.9" cy="456.1" r="2.2"/><circle cx="465.6" cy="457.8" r="2.2"/><circle cx="467.1" cy="464.7" r="2.2"/><circle cx="476.4" cy="465" r="2.2"/><circle cx="492" cy="464.5" r="2.2"/><circle cx="462.1" cy="474.5" r="2.2"/><circle cx="471.8" cy="476.4" r="2.2"/><circle cx="490" cy="475.4" r="2.2"/></g>
<rect x="396.2" y="358.7" width="114.3" height="124.2" fill="none" stroke="#000" stroke-width="1.45"/>
<path d="M395.6 374.6h-3.7M395.6 400.6h-3.7M395.6 426.5h-3.7M395.6 452.4h-3.7M395.6 478.5h-3.7M427.37 483.5v3.7M479.13 483.5v3.7" stroke="#2b2b2b" stroke-width="1.45" fill="none"/>
<g class="t">
<text x="388.9" y="379.25" text-anchor="end">0.4</text>
<text x="388.9" y="405.25" text-anchor="end">0.3</text>
<text x="388.9" y="431.15" text-anchor="end">0.2</text>
<text x="388.9" y="457.05" text-anchor="end">0.1</text>
<text x="388.9" y="483.15" text-anchor="end">0.0</text>
<text x="427.37" y="499.5" text-anchor="middle">Family</text>
<text x="479.13" y="499.5" text-anchor="middle">Fishers</text>
</g>
<text class="a" transform="translate(453.35 516.9) scale(1.05 1)" text-anchor="middle">Learned with</text>
<text class="b" transform="translate(363.9 420.8) rotate(-90) scale(1.0 1)" text-anchor="middle">ACI</text>
<text class="g" transform="translate(349.4 367.7) scale(0.96 1)">L</text>
</g>
<g>
<path d="M601.17 446.2V450M601.17 468.9V476.9" stroke="#333" stroke-width="1.6" fill="none"/>
<rect x="581.57" y="450" width="39.2" height="18.9" fill="#F8766D" stroke="#333" stroke-width="1.5"/>
<line x1="581.57" y1="463.9" x2="620.77" y2="463.9" stroke="#333" stroke-width="3"/>
<path d="M652.93 415.5V417.6M652.93 445.3V456.5" stroke="#333" stroke-width="1.6" fill="none"/>
<rect x="633.33" y="417.6" width="39.2" height="27.7" fill="#00BFC4" stroke="#333" stroke-width="1.5"/>
<line x1="633.33" y1="431.7" x2="672.53" y2="431.7" stroke="#333" stroke-width="3"/>
<g fill="#000"><circle cx="592" cy="417" r="2.2"/><circle cx="600.9" cy="419.1" r="2.2"/><circle cx="611.9" cy="447" r="2.2"/><circle cx="619.1" cy="447.9" r="2.2"/><circle cx="581.9" cy="450.9" r="2.2"/><circle cx="619" cy="456.7" r="2.2"/><circle cx="621.7" cy="463" r="2.2"/><circle cx="595" cy="464.8" r="2.2"/><circle cx="616.5" cy="464.7" r="2.2"/><circle cx="582.7" cy="473.2" r="2.2"/><circle cx="619" cy="474.3" r="2.2"/><circle cx="621.4" cy="477.1" r="2.2"/><circle cx="644.6" cy="364.4" r="2.2"/><circle cx="652.1" cy="365.3" r="2.2"/><circle cx="637.2" cy="416.8" r="2.2"/><circle cx="662.9" cy="415.9" r="2.2"/><circle cx="659.9" cy="419.3" r="2.2"/><circle cx="659" cy="420.4" r="2.2"/><circle cx="673.8" cy="418.9" r="2.2"/><circle cx="644.8" cy="432.1" r="2.2"/><circle cx="671.2" cy="430.8" r="2.2"/><circle cx="663.2" cy="440.1" r="2.2"/><circle cx="648.5" cy="444" r="2.2"/><circle cx="671" cy="446.2" r="2.2"/><circle cx="663.8" cy="450.9" r="2.2"/><circle cx="635.1" cy="454.2" r="2.2"/><circle cx="638.1" cy="455.9" r="2.2"/></g>
<rect x="570" y="358.7" width="114.3" height="124.2" fill="none" stroke="#000" stroke-width="1.45"/>
<path d="M569.4 374.6h-3.7M569.4 400.6h-3.7M569.4 426.5h-3.7M569.4 452.4h-3.7M569.4 478.5h-3.7M601.17 483.5v3.7M652.93 483.5v3.7" stroke="#2b2b2b" stroke-width="1.45" fill="none"/>
<g class="t">
<text x="562.7" y="379.25" text-anchor="end">0.4</text>
<text x="562.7" y="405.25" text-anchor="end">0.3</text>
<text x="562.7" y="431.15" text-anchor="end">0.2</text>
<text x="562.7" y="457.05" text-anchor="end">0.1</text>
<text x="562.7" y="483.15" text-anchor="end">0.0</text>
<text x="601.17" y="499.5" text-anchor="middle">No</text>
<text x="652.93" y="499.5" text-anchor="middle">Yes</text>
</g>
<text class="a" transform="translate(627.15 516.9) scale(1.05 1)" text-anchor="middle">Dependence</text>
<text class="b" transform="translate(537.7 420.8) rotate(-90) scale(1.0 1)" text-anchor="middle">ACI</text>
<text class="g" transform="translate(525 367.7) scale(0.96 1)">M</text>
</g>
<g>
<g fill="#000"><circle cx="112.6" cy="542.2" r="3.45"/><circle cx="134.2" cy="551.3" r="3.45"/><circle cx="114.5" cy="575.1" r="3.45"/><circle cx="118" cy="584" r="3.45"/><circle cx="71.3" cy="593.2" r="3.45"/><circle cx="77.1" cy="593.2" r="3.45"/><circle cx="93.1" cy="601.9" r="3.45"/><circle cx="157.3" cy="620" r="3.45"/><circle cx="96.2" cy="625.7" r="3.45"/><circle cx="100.3" cy="625.7" r="3.45"/><circle cx="53.4" cy="635" r="3.45"/><circle cx="57.2" cy="635" r="3.45"/><circle cx="59.4" cy="635" r="3.45"/><circle cx="84.1" cy="635" r="3.45"/><circle cx="103.7" cy="635" r="3.45"/><circle cx="117.8" cy="635" r="3.45"/><circle cx="120.4" cy="635" r="3.45"/><circle cx="126.9" cy="635" r="3.45"/><circle cx="57.2" cy="652.7" r="3.45"/><circle cx="130.7" cy="652.7" r="3.45"/></g>
<path d="M53.4 601.9C55.27 602.12 59.63 602.8 64.6 603.2C69.57 603.6 77.62 604.62 83.2 604.3C88.78 603.98 93.45 602.63 98.1 601.3C102.75 599.97 105.83 598.9 111.1 596.3C116.37 593.7 124.43 588.88 129.7 585.7C134.97 582.52 138.1 580.38 142.7 577.2C147.3 574.02 154.87 568.37 157.3 566.6L157.3 630.7C154.25 630.25 144.53 628.7 139 628C133.47 627.3 128.75 626.67 124.1 626.5C119.45 626.33 115.43 626.3 111.1 627C106.77 627.7 102.75 628.83 98.1 630.7C93.45 632.57 88.78 635.1 83.2 638.2C77.62 641.3 69.57 646.52 64.6 649.3C59.63 652.08 55.27 653.97 53.4 654.9Z" fill="#c0c0c0" fill-opacity="0.41"/>
<line x1="53.4" y1="628.3" x2="157.3" y2="598.7" stroke="#000" stroke-width="3.1"/>
<rect x="48.6" y="536.9" width="114.3" height="124.2" fill="none" stroke="#000" stroke-width="1.45"/>
<path d="M48 563.7h-3.7M48 594.2h-3.7M48 624.5h-3.7M48 654.9h-3.7M76.7 661.7v3.7M112.6 661.7v3.7M148.7 661.7v3.7" stroke="#2b2b2b" stroke-width="1.45" fill="none"/>
<g class="t">
<text x="41.3" y="568.35" text-anchor="end">0.3</text>
<text x="41.3" y="598.85" text-anchor="end">0.2</text>
<text x="41.3" y="629.15" text-anchor="end">0.1</text>
<text x="41.3" y="659.55" text-anchor="end">0.0</text>
<text x="76.7" y="677.7" text-anchor="middle">20</text>
<text x="112.6" y="677.7" text-anchor="middle">40</text>
<text x="148.7" y="677.7" text-anchor="middle">60</text>
</g>
<text class="a" transform="translate(105.75 695.1) scale(1.05 1)" text-anchor="middle">Age</text>
<text class="b" transform="translate(16.3 599) rotate(-90) scale(1.0 1)" text-anchor="middle">Celc</text>
<text class="g" transform="translate(2.7 545.9) scale(0.96 1)">N</text>
</g>
<g>
<path d="M253.57 554.1V594.7M253.57 636.1V653.6" stroke="#333" stroke-width="1.6" fill="none"/>
<rect x="233.97" y="594.7" width="39.2" height="41.4" fill="#F8766D" stroke="#333" stroke-width="1.5"/>
<line x1="233.97" y1="627.2" x2="273.17" y2="627.2" stroke="#333" stroke-width="3"/>
<path d="M305.33 583.9V612.7M305.33 636.3V653.6" stroke="#333" stroke-width="1.6" fill="none"/>
<rect x="285.73" y="612.7" width="39.2" height="23.6" fill="#00BFC4" stroke="#333" stroke-width="1.5"/>
<line x1="285.73" y1="635.6" x2="324.93" y2="635.6" stroke="#333" stroke-width="3"/>
<g fill="#000"><circle cx="254" cy="554.1" r="2.2"/><circle cx="246.6" cy="593.5" r="2.2"/><circle cx="256.3" cy="594.3" r="2.2"/><circle cx="243.3" cy="605.6" r="2.2"/><circle cx="233.4" cy="626.5" r="2.2"/><circle cx="271" cy="628.7" r="2.2"/><circle cx="257.4" cy="635" r="2.2"/><circle cx="267.6" cy="636.7" r="2.2"/><circle cx="260.9" cy="652.1" r="2.2"/><circle cx="296.5" cy="542.2" r="2.2"/><circle cx="304.8" cy="545.7" r="2.2"/><circle cx="300" cy="576.6" r="2.2"/><circle cx="305" cy="578.3" r="2.2"/><circle cx="303.7" cy="584.2" r="2.2"/><circle cx="297.2" cy="623.1" r="2.2"/><circle cx="298.7" cy="625.2" r="2.2"/><circle cx="284.9" cy="635.8" r="2.2"/><circle cx="301.9" cy="636.5" r="2.2"/><circle cx="302.8" cy="636.5" r="2.2"/><circle cx="310.4" cy="636" r="2.2"/><circle cx="309.3" cy="638.6" r="2.2"/><circle cx="320.7" cy="637.8" r="2.2"/><circle cx="286.2" cy="655.3" r="2.2"/></g>
<rect x="222.4" y="536.9" width="114.3" height="124.2" fill="none" stroke="#000" stroke-width="1.45"/>
<path d="M221.8 565.9h-3.7M221.8 595.9h-3.7M221.8 625.8h-3.7M221.8 656.1h-3.7M253.57 661.7v3.7M305.33 661.7v3.7" stroke="#2b2b2b" stroke-width="1.45" fill="none"/>
<g class="t">
<text x="215.1" y="570.55" text-anchor="end">0.3</text>
<text x="215.1" y="600.55" text-anchor="end">0.2</text>
<text x="215.1" y="630.45" text-anchor="end">0.1</text>
<text x="215.1" y="660.75" text-anchor="end">0.0</text>
<text x="253.57" y="677.7" text-anchor="middle">Female</text>
<text x="305.33" y="677.7" text-anchor="middle">Male</text>
</g>
<text class="a" transform="translate(279.55 695.1) scale(1.05 1)" text-anchor="middle">Sex</text>
<text class="b" transform="translate(190.1 599) rotate(-90) scale(1.0 1)" text-anchor="middle">Celc</text>
<text class="g" transform="translate(176.9 545.9) scale(0.96 1)">O</text>
</g>
<g>
<path d="M427.37 618.7V626.5M427.37 636V636" stroke="#333" stroke-width="1.6" fill="none"/>
<rect x="407.77" y="626.5" width="39.2" height="9.5" fill="#F8766D" stroke="#333" stroke-width="1.5"/>
<line x1="407.77" y1="635.3" x2="446.97" y2="635.3" stroke="#333" stroke-width="3"/>
<path d="M479.13 542.9V591.3M479.13 635.4V653.1" stroke="#333" stroke-width="1.6" fill="none"/>
<rect x="459.53" y="591.3" width="39.2" height="44.1" fill="#00BFC4" stroke="#333" stroke-width="1.5"/>
<line x1="459.53" y1="626.1" x2="498.73" y2="626.1" stroke="#333" stroke-width="3"/>
<g fill="#000"><circle cx="427.5" cy="618.8" r="2.2"/><circle cx="428.8" cy="627.2" r="2.2"/><circle cx="424" cy="635.4" r="2.2"/><circle cx="431" cy="634.5" r="2.2"/><circle cx="436.4" cy="637.1" r="2.2"/><circle cx="468.8" cy="542.2" r="2.2"/><circle cx="491.9" cy="552.8" r="2.2"/><circle cx="489.1" cy="576" r="2.2"/><circle cx="488.9" cy="587.2" r="2.2"/><circle cx="462.8" cy="592.8" r="2.2"/><circle cx="472.7" cy="593.9" r="2.2"/><circle cx="463.8" cy="603.2" r="2.2"/><circle cx="490.2" cy="625.7" r="2.2"/><circle cx="496.9" cy="625.3" r="2.2"/><circle cx="461" cy="635" r="2.2"/><circle cx="463.6" cy="635.6" r="2.2"/><circle cx="482.2" cy="633.7" r="2.2"/><circle cx="477.9" cy="636.9" r="2.2"/><circle cx="469.7" cy="655.3" r="2.2"/><circle cx="489.4" cy="654" r="2.2"/></g>
<rect x="396.2" y="536.9" width="114.3" height="124.2" fill="none" stroke="#000" stroke-width="1.45"/>
<path d="M395.6 564.4h-3.7M395.6 594.8h-3.7M395.6 625.1h-3.7M395.6 655.4h-3.7M427.37 661.7v3.7M479.13 661.7v3.7" stroke="#2b2b2b" stroke-width="1.45" fill="none"/>
<g class="t">
<text x="388.9" y="569.05" text-anchor="end">0.3</text>
<text x="388.9" y="599.45" text-anchor="end">0.2</text>
<text x="388.9" y="629.75" text-anchor="end">0.1</text>
<text x="388.9" y="660.05" text-anchor="end">0.0</text>
<text x="427.37" y="677.7" text-anchor="middle">Bad</text>
<text x="479.13" y="677.7" text-anchor="middle">Good</text>
</g>
<text class="a" transform="translate(453.35 695.1) scale(1.05 1)" text-anchor="middle">Behavior</text>
<text class="b" transform="translate(363.9 599) rotate(-90) scale(1.0 1)" text-anchor="middle">Celc</text>
<text class="g" transform="translate(349.9 545.9) scale(0.96 1)">P</text>
</g>
<g>
<path d="M601.17 551.3V598.6M601.17 636.3V654.6" stroke="#333" stroke-width="1.6" fill="none"/>
<rect x="581.57" y="598.6" width="39.2" height="37.7" fill="#F8766D" stroke="#333" stroke-width="1.5"/>
<line x1="581.57" y1="627.4" x2="620.77" y2="627.4" stroke="#333" stroke-width="3"/>
<path d="M652.93 542.4V595M652.93 636.3V653.1" stroke="#333" stroke-width="1.6" fill="none"/>
<rect x="633.33" y="595" width="39.2" height="41.3" fill="#00BFC4" stroke="#333" stroke-width="1.5"/>
<line x1="633.33" y1="631.7" x2="672.53" y2="631.7" stroke="#333" stroke-width="3"/>
<g fill="#000"><circle cx="619.3" cy="549.8" r="2.2"/><circle cx="581.4" cy="593.7" r="2.2"/><circle cx="584.3" cy="593" r="2.2"/><circle cx="587.9" cy="602.5" r="2.2"/><circle cx="588.4" cy="622" r="2.2"/><circle cx="613.2" cy="625.3" r="2.2"/><circle cx="586.8" cy="635.6" r="2.2"/><circle cx="587.3" cy="638.4" r="2.2"/><circle cx="598.5" cy="636" r="2.2"/><circle cx="603.5" cy="638.7" r="2.2"/><circle cx="593.5" cy="655.3" r="2.2"/><circle cx="643.7" cy="542.9" r="2.2"/><circle cx="647.6" cy="577.9" r="2.2"/><circle cx="638.7" cy="584.6" r="2.2"/><circle cx="656.7" cy="624.8" r="2.2"/><circle cx="671.6" cy="625.7" r="2.2"/><circle cx="634.2" cy="636.9" r="2.2"/><circle cx="646.9" cy="637.3" r="2.2"/><circle cx="654.7" cy="634.8" r="2.2"/><circle cx="663.4" cy="635.4" r="2.2"/><circle cx="651" cy="652.9" r="2.2"/></g>
<rect x="570" y="536.9" width="114.3" height="124.2" fill="none" stroke="#000" stroke-width="1.45"/>
<path d="M569.4 564.1h-3.7M569.4 595.1h-3.7M569.4 625.8h-3.7M569.4 656.6h-3.7M601.17 661.7v3.7M652.93 661.7v3.7" stroke="#2b2b2b" stroke-width="1.45" fill="none"/>
<g class="t">
<text x="562.7" y="568.75" text-anchor="end">0.3</text>
<text x="562.7" y="599.75" text-anchor="end">0.2</text>
<text x="562.7" y="630.45" text-anchor="end">0.1</text>
<text x="562.7" y="661.25" text-anchor="end">0.0</text>
<text x="601.17" y="677.7" text-anchor="middle">Form</text>
<text x="652.93" y="677.7" text-anchor="middle">Mark</text>
</g>
<text class="a" transform="translate(627.15 695.1) scale(1.05 1)" text-anchor="middle">Recognition</text>
<text class="b" transform="translate(537.7 599) rotate(-90) scale(1.0 1)" text-anchor="middle">Celc</text>
<text class="g" transform="translate(524.5 545.9) scale(0.96 1)">Q</text>
</g>
</svg>
</body>
</html>
